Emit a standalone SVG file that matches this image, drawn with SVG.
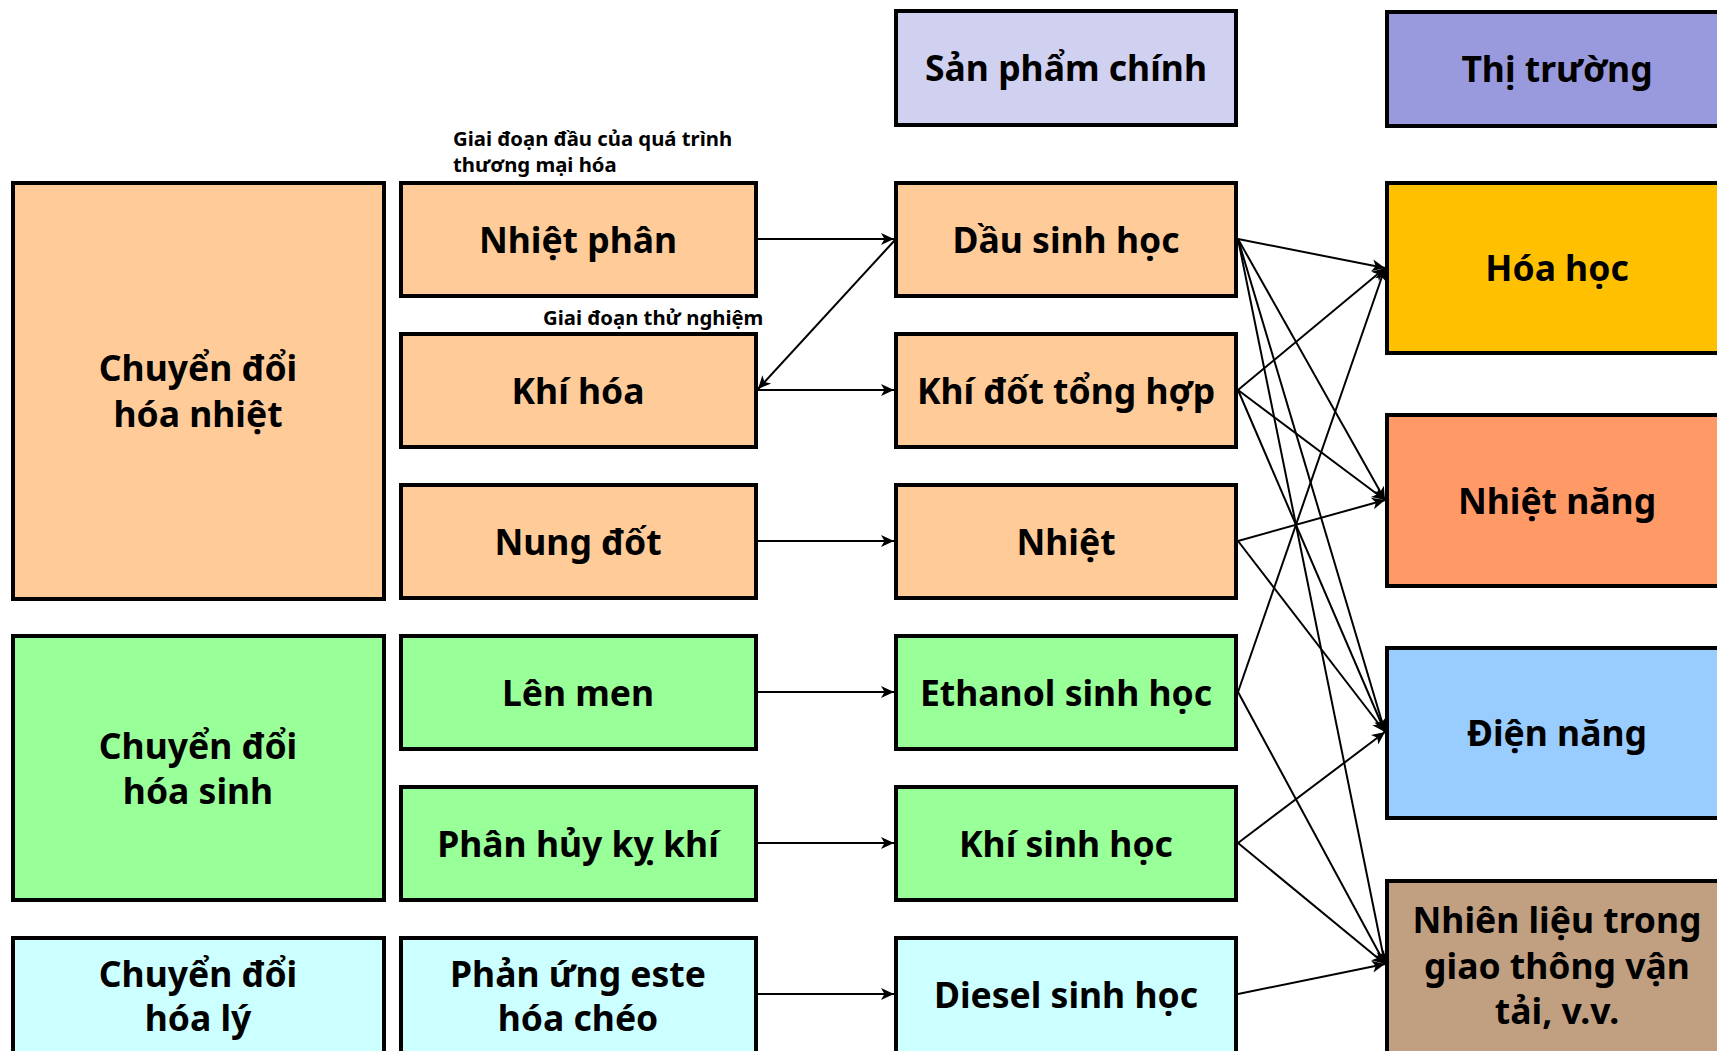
<svg xmlns="http://www.w3.org/2000/svg" width="1717" height="1051" viewBox="0 0 1717 1051">
<defs>
<marker id="arr" markerUnits="userSpaceOnUse" markerWidth="15" markerHeight="15" refX="14" refY="7.5" orient="auto">
<path d="M1,1.5 L14,7.5 L1,13.5 L4.5,7.5 z" fill="#000"/>
</marker>
<style>
rect{stroke:#000;stroke-width:4}
.th{fill:#FFCC99}.bi{fill:#99FF99}.ph{fill:#CCFFFF}
text{font-family:"Noto Sans","Open Sans","Liberation Sans",sans-serif;font-weight:bold;fill:#000}
.t{font-size:35.5px;text-anchor:middle}
.s{font-size:20.3px}
#connectors line{stroke:#000;stroke-width:2;marker-end:url(#arr)}
</style>
</defs>
<rect width="1717" height="1051" fill="#fff" style="stroke:none"/>

<g id="hdr-products"><rect x="896" y="11" width="340" height="114" fill="#D0D0F0"/><text class="t" x="1066" y="81">Sản phẩm chính</text></g>
<g id="hdr-markets"><rect x="1387" y="12" width="345" height="114" fill="#9999DD"/><text class="t" x="1557" y="82">Thị trường</text></g>

<g id="thermo"><rect class="th" x="13" y="183" width="371" height="416"/><text class="t" x="198" y="381">Chuyển đổi</text><text class="t" x="198" y="427">hóa nhiệt</text></g>
<g id="bio"><rect class="bi" x="13" y="636" width="371" height="264"/><text class="t" x="198" y="759">Chuyển đổi</text><text class="t" x="198" y="804">hóa sinh</text></g>
<g id="physico"><rect class="ph" x="13" y="938" width="371" height="130"/><text class="t" x="198" y="987">Chuyển đổi</text><text class="t" x="198" y="1031">hóa lý</text></g>

<g id="pyrolysis"><rect class="th" x="401" y="183" width="355" height="113"/><text class="t" x="578" y="253">Nhiệt phân</text></g>
<g id="gasification"><rect class="th" x="401" y="334" width="355" height="113"/><text class="t" x="578" y="404">Khí hóa</text></g>
<g id="combustion"><rect class="th" x="401" y="485" width="355" height="113"/><text class="t" x="578" y="555">Nung đốt</text></g>
<g id="fermentation"><rect class="bi" x="401" y="636" width="355" height="113"/><text class="t" x="578" y="706">Lên men</text></g>
<g id="anaerobic"><rect class="bi" x="401" y="787" width="355" height="113"/><text class="t" x="578" y="857">Phân hủy kỵ khí</text></g>
<g id="transesterification"><rect class="ph" x="401" y="938" width="355" height="130"/><text class="t" x="578" y="987">Phản ứng este</text><text class="t" x="578" y="1031">hóa chéo</text></g>

<g id="notes">
<text class="s" x="453" y="146">Giai đoạn đầu của quá trình</text>
<text class="s" x="453" y="172">thương mại hóa</text>
<text class="s" x="543" y="325">Giai đoạn thử nghiệm</text>
</g>

<g id="bio-oil"><rect class="th" x="896" y="183" width="340" height="113"/><text class="t" x="1066" y="253">Dầu sinh học</text></g>
<g id="syngas"><rect class="th" x="896" y="334" width="340" height="113"/><text class="t" x="1066" y="404">Khí đốt tổng hợp</text></g>
<g id="heat"><rect class="th" x="896" y="485" width="340" height="113"/><text class="t" x="1066" y="555">Nhiệt</text></g>
<g id="bioethanol"><rect class="bi" x="896" y="636" width="340" height="113"/><text class="t" x="1066" y="706">Ethanol sinh học</text></g>
<g id="biogas"><rect class="bi" x="896" y="787" width="340" height="113"/><text class="t" x="1066" y="857">Khí sinh học</text></g>
<g id="biodiesel"><rect class="ph" x="896" y="938" width="340" height="130"/><text class="t" x="1066" y="1008">Diesel sinh học</text></g>

<g id="chemicals"><rect x="1387" y="183" width="345" height="170" fill="#FFC000"/><text class="t" x="1557" y="281">Hóa học</text></g>
<g id="heat-market"><rect x="1387" y="415" width="345" height="171" fill="#FF9966"/><text class="t" x="1557" y="514">Nhiệt năng</text></g>
<g id="power"><rect x="1387" y="648" width="345" height="170" fill="#99CCFF"/><text class="t" x="1557" y="746">Điện năng</text></g>
<g id="transport"><rect x="1387" y="881" width="345" height="190" fill="#C0A080"/><text class="t" x="1557" y="933">Nhiên liệu trong</text><text class="t" x="1557" y="979">giao thông vận</text><text class="t" x="1557" y="1024">tải, v.v.</text></g>

<g id="connectors">
<line x1="758" y1="239" x2="894" y2="239"/>
<line x1="895" y1="240" x2="758" y2="389"/>
<line x1="758" y1="390" x2="894" y2="390"/>
<line x1="758" y1="541" x2="894" y2="541"/>
<line x1="758" y1="692" x2="894" y2="692"/>
<line x1="758" y1="843" x2="894" y2="843"/>
<line x1="758" y1="994" x2="894" y2="994"/>

<line x1="1238" y1="239" x2="1385" y2="268"/>
<line x1="1238" y1="239" x2="1385" y2="500"/>
<line x1="1238" y1="239" x2="1385" y2="732"/>
<line x1="1238" y1="239" x2="1385" y2="964"/>
<line x1="1238" y1="390" x2="1385" y2="268"/>
<line x1="1238" y1="390" x2="1385" y2="500"/>
<line x1="1238" y1="390" x2="1385" y2="732"/>
<line x1="1238" y1="541" x2="1385" y2="500"/>
<line x1="1238" y1="541" x2="1385" y2="732"/>
<line x1="1238" y1="692" x2="1385" y2="268"/>
<line x1="1238" y1="692" x2="1385" y2="964"/>
<line x1="1238" y1="843" x2="1385" y2="732"/>
<line x1="1238" y1="843" x2="1385" y2="964"/>
<line x1="1238" y1="994" x2="1385" y2="964"/>
</g>
</svg>
